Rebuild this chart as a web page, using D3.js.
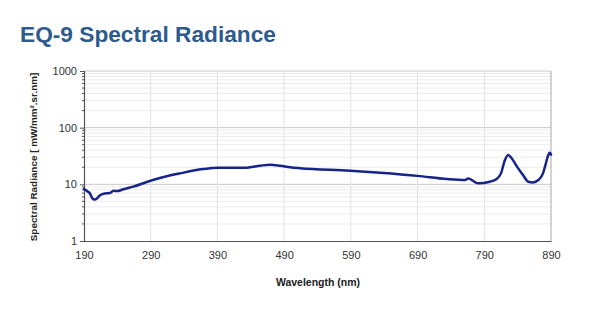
<!DOCTYPE html>
<html>
<head>
<meta charset="utf-8">
<script src="https://cdn.jsdelivr.net/npm/d3@7"></script>
<style>
  body { margin: 0; background: #fff; }
  text { font-family: "Liberation Sans", Arial, sans-serif; }
</style>
</head>
<body>
<div id="chart"></div>
<script>
// wavelength (nm) and radiance
const wavelength = [190, 196, 199, 202, 205, 208, 214, 221, 229, 234, 240, 249, 264, 285, 308, 334, 368, 391, 434, 454, 469, 484, 499, 514, 589, 634, 690, 734, 761, 766, 781, 798, 808, 815, 821, 826, 831, 839, 848, 856, 863, 871, 878, 881, 886, 888, 890];
const radiance = [8.3, 7.4, 6.9, 5.8, 5.4, 5.5, 6.4, 6.9, 7.0, 7.7, 7.6, 8.2, 9.1, 11.1, 13.3, 15.6, 18.6, 19.7, 19.7, 21.3, 22.2, 21.3, 20.0, 19.2, 17.4, 16.0, 14.1, 12.4, 11.9, 12.7, 10.4, 11.1, 12.3, 15.6, 26.9, 32.9, 28.8, 20.5, 14.6, 11.1, 10.8, 11.9, 15.6, 20.5, 32.9, 36.0, 33.5];
const xTicks = [190, 290, 390, 490, 590, 690, 790, 890];
const yTicks = [1, 10, 100, 1000];

const width = 592, height = 330;
const margin = {top: 71, right: 41, bottom: 89, left: 84};

const svg = d3.select('#chart').append('svg')
  .attr('width', width)
  .attr('height', height);

const x = d3.scaleLinear()
  .domain([190, 890])
  .range([margin.left, width - margin.right]);

const y = d3.scaleLog()
  .domain([1, 1000])
  .range([height - margin.bottom, margin.top]);

// title
svg.append('text')
  .attr('x', 20)
  .attr('y', 42)
  .attr('fill', '#2d5b8f')
  .style('font-size', '22.7px')
  .style('font-weight', 'bold')
  .text('EQ-9 Spectral Radiance');

// minor horizontal grid
const minorY = [];
for (let d = 1; d < 1000; d *= 10) {
  for (let k = 2; k < 10; k++) minorY.push(d * k);
}
svg.append('g')
  .selectAll('line')
  .data(minorY)
  .join('line')
  .attr('x1', margin.left)
  .attr('x2', width - margin.right)
  .attr('y1', d => y(d))
  .attr('y2', d => y(d))
  .attr('stroke', '#ececec')
  .attr('stroke-width', 1);

// major horizontal grid
svg.append('g')
  .selectAll('line')
  .data(yTicks.slice(1))
  .join('line')
  .attr('x1', margin.left)
  .attr('x2', width - margin.right)
  .attr('y1', d => y(d))
  .attr('y2', d => y(d))
  .attr('stroke', '#c8c8c8')
  .attr('stroke-width', 1);

// vertical grid
svg.append('g')
  .selectAll('line')
  .data(xTicks.slice(1, -1))
  .join('line')
  .attr('x1', d => x(d))
  .attr('x2', d => x(d))
  .attr('y1', margin.top)
  .attr('y2', height - margin.bottom)
  .attr('stroke', '#e2e2e2')
  .attr('stroke-width', 1);

// right border
svg.append('line')
  .attr('x1', width - margin.right)
  .attr('x2', width - margin.right)
  .attr('y1', margin.top)
  .attr('y2', height - margin.bottom)
  .attr('stroke', '#a8a8a8');

// y axis
const yAxis = svg.append('g')
  .attr('transform', `translate(${margin.left},0)`)
  .call(d3.axisLeft(y).tickValues(yTicks).tickSize(4).tickFormat(d3.format('d')));
yAxis.append('g')
  .selectAll('line')
  .data(minorY)
  .join('line')
  .attr('x1', -2)
  .attr('x2', 0)
  .attr('y1', d => y(d))
  .attr('y2', d => y(d))
  .attr('stroke', '#555');

// x axis
const xAxis = svg.append('g')
  .attr('transform', `translate(0,${height - margin.bottom})`)
  .call(d3.axisBottom(x).tickValues(xTicks).tickSize(0).tickPadding(10).tickFormat(d3.format('d')));

[xAxis, yAxis].forEach(g => {
  g.select('.domain').attr('stroke', '#555').attr('stroke-width', 1.2);
  g.selectAll('.tick line').attr('stroke', '#555');
  g.selectAll('.tick text')
    .attr('fill', '#333')
    .style('font-family', '"Liberation Sans", Arial, sans-serif')
    .style('font-size', '11px');
});

// axis labels
svg.append('text')
  .attr('transform', `translate(37,${(margin.top + height - margin.bottom) / 2 + 1}) rotate(-90)`)
  .attr('text-anchor', 'middle')
  .attr('fill', '#222')
  .style('font-size', '9.9px')
  .style('font-weight', 'bold')
  .text('Spectral Radiance  [ mW/mm².sr.nm]');

svg.append('text')
  .attr('x', 318)
  .attr('y', 286)
  .attr('text-anchor', 'middle')
  .attr('fill', '#222')
  .style('font-size', '10.5px')
  .style('font-weight', 'bold')
  .text('Wavelength (nm)');

// curve
const line = d3.line()
  .x((d, i) => x(wavelength[i]))
  .y(d => y(d))
  .curve(d3.curveMonotoneX);

svg.append('path')
  .datum(radiance)
  .attr('fill', 'none')
  .attr('stroke', '#15238a')
  .attr('stroke-width', 2.5)
  .attr('stroke-linejoin', 'round')
  .attr('stroke-linecap', 'round')
  .attr('d', line);
</script>
</body>
</html>
